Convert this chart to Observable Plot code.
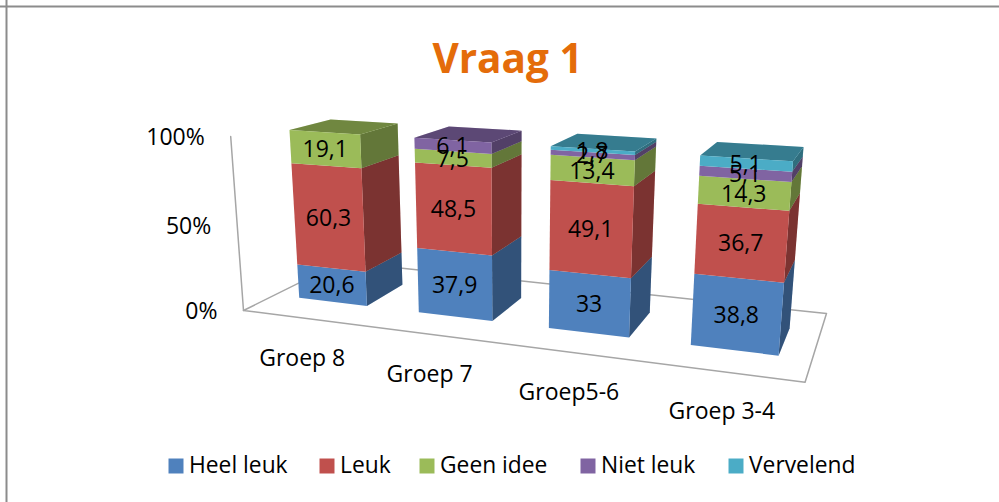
<!DOCTYPE html>
<html><head><meta charset="utf-8">
<script src="https://cdn.jsdelivr.net/npm/d3@7"></script>
<script src="https://cdn.jsdelivr.net/npm/@observablehq/plot@0.6"></script>
<style>html,body{margin:0;padding:0;background:#fff}svg{display:block}</style>
</head><body><div id="chart"></div>
<script>
const groups = ["Groep 8", "Groep 7", "Groep5-6", "Groep 3-4"];
const seriesNames = ["Heel leuk", "Leuk", "Geen idee", "Niet leuk", "Vervelend"];
const heelLeuk = [20.6, 37.9, 33, 38.8];
const leuk = [60.3, 48.5, 49.1, 36.7];
const geenIdee = [19.1, 7.5, 13.4, 14.3];
const nietLeuk = [0, 6.1, 2.7, 5.1];
const vervelend = [0, 0, 1.8, 5.1];
const seriesValues = [heelLeuk, leuk, geenIdee, nietLeuk, vervelend];
const colors = ["#4f81bd", "#c0504d", "#9bbb59", "#8064a2", "#4bacc6"];
const yTicks = [0, 50, 100];
const legendX = [168, 319, 419, 580, 728];

// Perspective camera of the 3D chart box: X along the categories, Y value, Z depth (each 0..1)
const cam = {o: [243, 310], a: [427.2, 8], b: [-23.3, -180.2], c: [154.3, -5.5], wa: -0.167, wb: -0.0456, wc: 0.1652};
const project = (X, Y, Z) => {
  const w = 1 + cam.wa * X + cam.wb * Y + cam.wc * Z;
  return [0, 1].map(k => (cam.o[k] + cam.a[k] * X + cam.b[k] * Y + cam.c[k] * Z) / w);
};
const barHalf = 0.072, zFront = 0.29, zBack = 0.70;

const fronts = [], sides = [], tops = [], labels = [];
const poly = (list, id, series, corners) => corners.forEach((c, i) => {
  const [x, y] = project(...c);
  list.push({id, series, x, y, i});
});
groups.forEach((g, gi) => {
  const cx = (gi + 0.5) / groups.length, x0 = cx - barHalf, x1 = cx + barHalf;
  let acc = 0, last = null;
  seriesNames.forEach((s, si) => {
    const v = seriesValues[si][gi];
    if (!v) return;
    const y0 = acc / 100, y1 = (acc + v) / 100;
    acc += v;
    const id = g + "|" + s;
    poly(fronts, id, s, [[x0, y0, zFront], [x1, y0, zFront], [x1, y1, zFront], [x0, y1, zFront]]);
    poly(sides, id, s, [[x1, y0, zFront], [x1, y0, zBack], [x1, y1, zBack], [x1, y1, zFront]]);
    const [lx, ly] = project(cx, (y0 + y1) / 2, zFront);
    labels.push({x: lx, y: ly, text: String(v).replace(".", ",")});
    last = {id, s, y1};
  });
  poly(tops, last.id, last.s, [[x0, last.y1, zFront], [x1, last.y1, zFront], [x1, last.y1, zBack], [x0, last.y1, zBack]]);
});

const floor = [[0,0,0],[1,0,0],[1,0,1],[0,0,1]].map(c => { const [x, y] = project(...c); return {x, y}; });
const wall = [[0,0,0],[0,1,0]].map(c => { const [x, y] = project(...c); return {x, y}; });
const yLabels = yTicks.map(t => { const [x, y] = project(0, t / 100, 0); return {x, y, text: t + "%"}; });
const xLabels = groups.map((g, i) => { const [x, y] = project((i + 0.5) / groups.length, 0, 0); return {x, y, text: g}; });
const legend = seriesNames.map((s, i) => ({s, x: legendX[i]}));

const font = "'Open Sans'";
const faceOpts = {x: "x", y: "y", z: "id", curve: "linear-closed", stroke: "none"};
const chart = Plot.plot({
  width: 999, height: 502, margin: 0,
  style: {background: "#fff"},
  x: {domain: [0, 999], range: [0, 999], axis: null},
  y: {domain: [0, 502], range: [0, 502], axis: null},
  color: {domain: seriesNames, range: colors},
  marks: [
    Plot.ruleX([6], {stroke: "#8c8c8c", strokeWidth: 2}),
    Plot.ruleY([6], {stroke: "#8c8c8c", strokeWidth: 2}),
    Plot.line(floor, {x: "x", y: "y", curve: "linear-closed", stroke: "#a6a6a6", strokeWidth: 1.5}),
    Plot.line(wall, {x: "x", y: "y", stroke: "#a6a6a6", strokeWidth: 1.5}),
    Plot.line(sides, {...faceOpts, fill: "series"}),
    Plot.line(sides, {...faceOpts, fill: "#000", fillOpacity: 0.36}),
    Plot.line(tops, {...faceOpts, fill: "series"}),
    Plot.line(tops, {...faceOpts, fill: "#000", fillOpacity: 0.28}),
    Plot.line(fronts, {...faceOpts, fill: "series"}),
    Plot.text(labels, {x: "x", y: "y", text: "text", dy: 1, fontSize: 23, fontFamily: font, fill: "#000", lineAnchor: "middle"}),
    Plot.text(yLabels, {x: "x", y: "y", text: "text", dx: -26, dy: 1, textAnchor: "end", fontSize: 23, fontFamily: font, fill: "#000", lineAnchor: "middle"}),
    Plot.text(xLabels, {x: "x", y: "y", text: "text", dx: -1, dy: 40, fontSize: 23, fontFamily: font, fill: "#000", lineAnchor: "middle"}),
    Plot.text(["Vraag 1"], {x: 507, y: 60, text: d => d, fontSize: 40.5, fontWeight: 700, fontFamily: font, fill: "#e46c0a", lineAnchor: "middle"}),
    Plot.dot(legend, {x: d => d.x + 7.5, y: 465.5, fill: "s", symbol: "square", r: 8.46, stroke: "none"}),
    Plot.text(legend, {x: d => d.x + 20.5, y: 465, text: "s", textAnchor: "start", fontSize: 22.8, fontFamily: font, fill: "#000", lineAnchor: "middle"})
  ]
});
document.getElementById("chart").append(chart);
</script></body></html>
